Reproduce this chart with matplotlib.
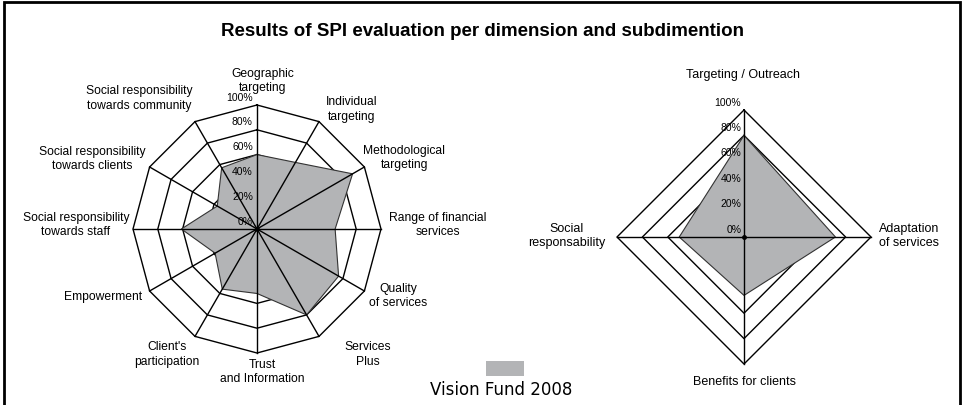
import numpy as np
import matplotlib
matplotlib.use("Agg")
from matplotlib import pyplot as plt
from matplotlib.patches import Rectangle

# subdimensions (left chart), clockwise from top
sub_labels = ["Geographic\ntargeting", "Individual\ntargeting", "Methodological\ntargeting",
              "Range of financial\nservices", "Quality\nof services", "Services\nPlus",
              "Trust\nand Information", "Client's\nparticipation", "Empowerment",
              "Social responsibility\ntowards staff", "Social responsibility\ntowards clients",
              "Social responsibility\ntowards community"]
sub_values = [60, 62, 89, 63, 76, 80, 52, 56, 39, 61, 37, 57]

# dimensions (right chart)
dim_labels = ["Targeting / Outreach", "Adaptation\nof services", "Benefits for clients", "Social\nresponsability"]
dim_values = [80, 72, 46, 51]

ticks = [0, 20, 40, 60, 80, 100]
series_name = "Vision Fund 2008"

FILL = "#b3b4b6"
W, H = 963, 406
FONT = "Liberation Sans"


def radar(rect, labels, values, label_off, label_size, tick_x):
    ax = fig.add_axes(rect, projection="polar")
    ax.set_theta_zero_location("N")
    ax.set_theta_direction(-1)
    ax.set_ylim(0, 100)
    ax.set_xticks([])
    ax.set_yticks([])
    ax.grid(False)
    ax.spines["polar"].set_visible(False)
    ax.patch.set_alpha(0)

    n = len(labels)
    ang = np.linspace(0, 2 * np.pi, n, endpoint=False)
    ang_c = np.append(ang, ang[0])

    # polygon rings
    for t in ticks[1:]:
        ax.plot(ang_c, [t] * (n + 1), color="black", lw=1.0, zorder=1, clip_on=False)

    vals = np.append(values, values[0])
    ax.fill(ang_c, vals, facecolor=FILL, edgecolor="#333333", lw=0.8, zorder=2)

    # spokes over fill
    for a in ang:
        ax.plot([a, a], [0, 100], color="black", lw=1.0, zorder=3, clip_on=False)
    ax.plot([0], [0], "o", color="black", ms=2.5, zorder=4)

    for t in ticks:
        ax.annotate(f"{t}%", xy=(0, t), xytext=(tick_x, 6), textcoords="offset points",
                    ha="right", va="center", fontsize=7.5, family=FONT, zorder=5)

    for a, lab, off in zip(ang, labels, label_off):
        ax.annotate(lab, xy=(a, 100), xytext=(off[0] * 0.72, -off[1] * 0.72),
                    textcoords="offset points", ha="center", va="center",
                    fontsize=label_size, family=FONT, linespacing=1.25)
    return ax


fig = plt.figure(figsize=(W / 100, H / 100), dpi=100)

# label offsets from the outer vertex (pixels, y down)
left_off = [(6, -25), (33, -13), (40, -10), (57, -5), (34, 4), (49, 17),
            (5, 18), (-28, 17), (-47, 5), (-57, -5), (-57, -9), (-56, -24)]
right_off = [(-1, -36), (38, -2), (0, 17), (-50, -2)]

# left chart: centre (257, 230), radius 124
radar([133 / W, (H - 354) / H, 248 / W, 248 / H], sub_labels, sub_values, left_off, 8.7, -3)
# right chart: centre (744, 238), radius 127
radar([617 / W, (H - 365) / H, 254 / W, 254 / H], dim_labels, dim_values, right_off, 9, -2)

fig.text(482 / W, 1 - 31 / H, "Results of SPI evaluation per dimension and subdimention",
         ha="center", va="center", fontsize=13.5, fontweight="bold", family=FONT)

# legend
fig.patches.append(Rectangle((486 / W, 1 - 377 / H), 38 / W, 15 / H, transform=fig.transFigure,
                             facecolor=FILL, edgecolor="none"))
fig.text(501 / W, 1 - 390 / H, series_name, ha="center", va="center", fontsize=12, family="DejaVu Sans")

# frame
fig.patches.append(Rectangle((4 / W, -0.05), 956 / W, 1.05 - 3 / H, transform=fig.transFigure,
                             facecolor="none", edgecolor="black", lw=2))

fig.savefig("out.png", dpi=100)
